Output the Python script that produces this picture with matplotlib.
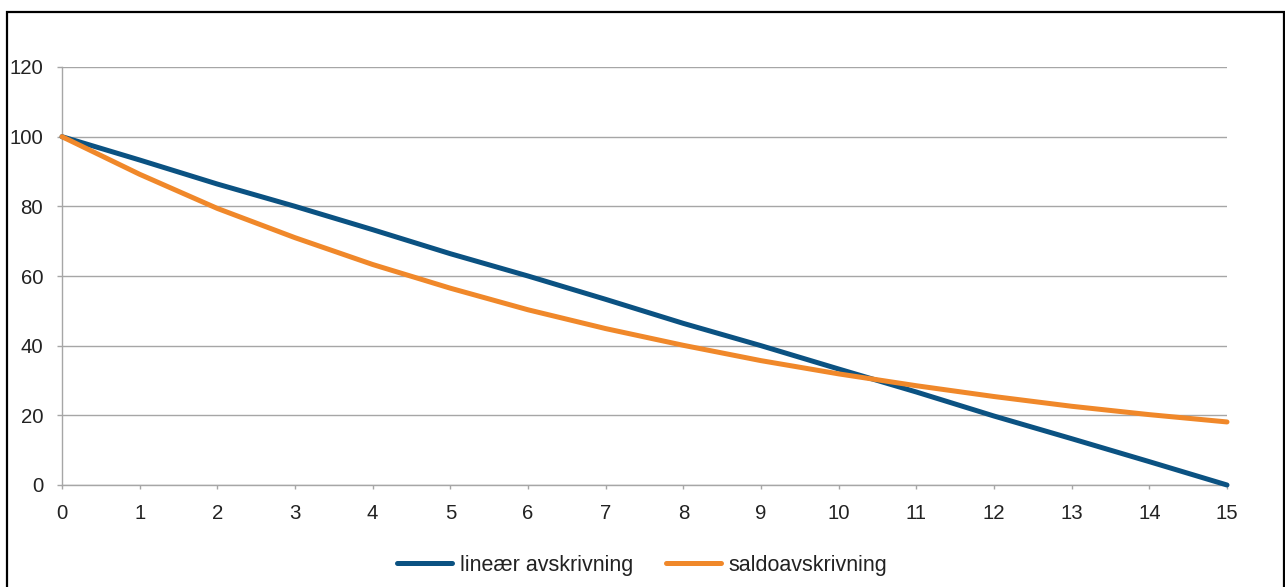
import matplotlib.pyplot as plt
from matplotlib.patches import Rectangle

# data
years = list(range(16))
linear = [100, 93.3, 86.4, 80, 73.3, 66.4, 60, 53.3, 46.4, 40, 33.3, 26.7, 19.8, 13.3, 6.7, 0]
saldo = [100, 89.2, 79.4, 71.0, 63.3, 56.5, 50.3, 44.9, 40.1, 35.7, 31.9, 28.5, 25.4, 22.6, 20.2, 18.1]
yticks = [0, 20, 40, 60, 80, 100, 120]

plt.rcParams['font.family'] = ['Liberation Sans', 'DejaVu Sans']

fig = plt.figure(figsize=(12.85, 5.87), dpi=100)
ax = fig.add_axes([62/1285, 1 - 485/587, 1165/1285, 418/587])

blue = '#0b5282'
orange = '#f0882a'
grey = '#a6a6a6'
fs = 14.7

ax.plot(years, linear, color=blue, lw=3.6, solid_capstyle='round', clip_on=False,
        label='lineær avskrivning', zorder=3)
ax.plot(years, saldo, color=orange, lw=3.6, solid_capstyle='round', clip_on=False,
        label='saldoavskrivning', zorder=4)

ax.set_xlim(0, 15)
ax.set_ylim(0, 120)
ax.set_xticks(years)
ax.set_yticks(yticks)
ax.grid(axis='y', color=grey, lw=1)
ax.set_axisbelow(True)
for s in ['top', 'right']:
    ax.spines[s].set_visible(False)
for s in ['left', 'bottom']:
    ax.spines[s].set_color(grey)
    ax.spines[s].set_linewidth(1)
ax.tick_params(axis='y', length=3.6, color=grey, width=1, labelsize=fs,
               labelcolor='#222222', pad=10)
ax.tick_params(axis='x', length=3, color=grey, width=1, labelsize=fs,
               labelcolor='#222222', pad=10.5)

leg = fig.legend(loc='center', bbox_to_anchor=(0.5, 1 - 565/587), ncol=2, frameon=False,
                 fontsize=15.5, handlelength=2.55, columnspacing=1.5, handletextpad=0.37)
for t in leg.get_texts():
    t.set_color('#222222')
for h in leg.get_lines():
    h.set_solid_capstyle('round')

fig.patches.append(Rectangle((7/1285, -0.05), 1277/1285, 1.05 - 12/587,
                             transform=fig.transFigure, fill=False, ec='black', lw=1.6))

fig.savefig('out.png', dpi=100)
